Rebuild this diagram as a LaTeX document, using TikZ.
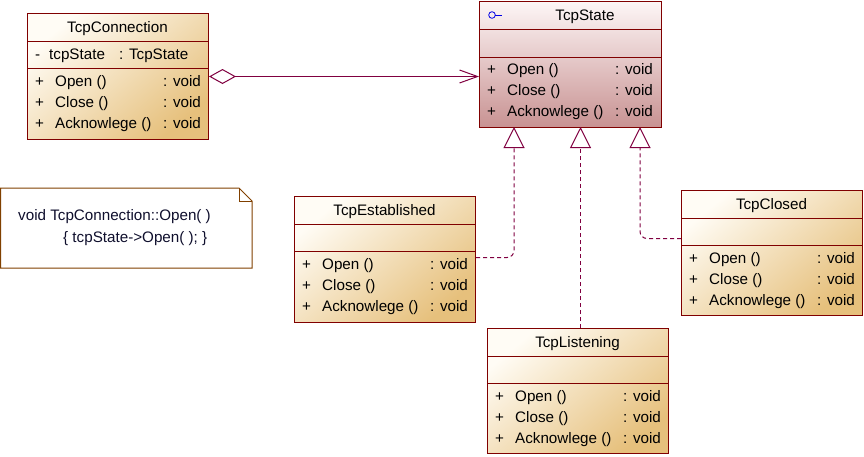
\documentclass[tikz,border=0pt]{standalone}
\usepackage{fontspec}
\setmainfont{Liberation Sans}
\usetikzlibrary{arrows.meta}
\definecolor{cborder}{RGB}{128,0,0}
\definecolor{cline}{RGB}{128,0,64}
\definecolor{ctan}{RGB}{230,192,124}
\definecolor{clight}{RGB}{255,252,245}
\definecolor{cpink}{RGB}{200,146,146}
\definecolor{cpinklight}{RGB}{253,246,246}
\definecolor{cnote}{RGB}{128,64,0}
\definecolor{cnotetext}{RGB}{15,15,45}
\definecolor{cicon}{RGB}{0,0,230}
\tikzset{
  classbox/.style={draw=cborder, line width=1pt, rectangle, inner sep=0pt,
    anchor=north west, minimum width=181pt, minimum height=126pt,
    top color=clight, bottom color=ctan, shading angle=40},
  statebox/.style={classbox, top color=cpinklight, bottom color=cpink},
  sepline/.style={draw=cborder, line width=1pt},
  txt/.style={inner sep=0pt, anchor=base west, font=\fontsize{15.2}{17}\selectfont},
  ttl/.style={inner sep=0pt, anchor=base, font=\fontsize{15.2}{17}\selectfont},
  conn/.style={draw=cline, line width=1pt},
  dep/.style={conn, dash pattern=on 4pt off 3pt, rounded corners=7pt,
    -{Triangle[open, length=21pt, width=21pt, line width=1pt]}},
  notetxt/.style={inner sep=0pt, anchor=base west, text=cnotetext, font=\fontsize{15.2}{17}\selectfont},
}
% #1 prefix, #2 box left x, #3 box top y
\newcommand{\classops}[3]{%
  \node[txt] (#1p1) at (#2+8,#3+73) {+};
  \node[txt] (#1p2) at (#2+8,#3+94) {+};
  \node[txt] (#1p3) at (#2+8,#3+115) {+};
  \node[txt] (#1n1) at (#2+28,#3+73) {Open ()};
  \node[txt] (#1n2) at (#2+28,#3+94) {Close ()};
  \node[txt] (#1n3) at (#2+28,#3+115) {Acknowlege ()};
  \node[txt] (#1v1) at (#2+136,#3+73) {: void};
  \node[txt] (#1v2) at (#2+136,#3+94) {: void};
  \node[txt] (#1v3) at (#2+136,#3+115) {: void};
  \draw[sepline] (#2,#3+28) -- (#2+181,#3+28);
  \draw[sepline] (#2,#3+55) -- (#2+181,#3+55);
}
\begin{document}
\begin{tikzpicture}[x=1pt, y=-1pt]
\useasboundingbox (0,0) rectangle (864,456);

% TcpConnection
\node[classbox] (tconn) at (27,13) {};
\node[ttl] (tconnT) at (117.5,32) {TcpConnection};
\node[txt] (tconnA0) at (35,59) {-};
\node[txt] (tconnA1) at (49,59) {tcpState};
\node[txt] (tconnA2) at (119,59) {: TcpState};
\classops{tconn}{27}{13}

% TcpState
\node[statebox, minimum width=182pt] (tstate) at (479,1) {};
\node[ttl] (tstateT) at (585,20) {TcpState};
\draw[draw=cicon, line width=0.8pt] (492,15) circle[radius=3.3pt];
\draw[draw=cicon, line width=0.8pt] (495.3,15) -- (502,15);
\node[txt] (tsp1) at (487,74) {+};
\node[txt] (tsp2) at (487,95) {+};
\node[txt] (tsp3) at (487,116) {+};
\node[txt] (tsn1) at (507,74) {Open ()};
\node[txt] (tsn2) at (507,95) {Close ()};
\node[txt] (tsn3) at (507,116) {Acknowlege ()};
\node[txt] (tsv1) at (615,74) {: void};
\node[txt] (tsv2) at (615,95) {: void};
\node[txt] (tsv3) at (615,116) {: void};
\draw[sepline] (479,29) -- (661,29);
\draw[sepline] (479,57) -- (661,57);

% TcpEstablished
\node[classbox] (test) at (294,196) {};
\node[ttl] (testT) at (384.5,215) {TcpEstablished};
\classops{test}{294}{196}

% TcpClosed
\node[classbox, minimum height=125pt] (tclosed) at (681,190) {};
\node[ttl] (tclosedT) at (771.5,209) {TcpClosed};
\classops{tclosed}{681}{190}

% TcpListening
\node[classbox, minimum height=125pt] (tlist) at (487,328) {};
\node[ttl] (tlistT) at (577.5,347) {TcpListening};
\classops{tlist}{487}{328}

% Note
\draw[draw=cnote, line width=1pt, fill=white]
  (0.5,188) -- (239,188) -- (252,201) -- (252,268) -- (0.5,268) -- cycle;
\draw[draw=cnote, line width=1pt] (239,188) -- (239,201) -- (252,201);
\node[notetxt] (note1) at (18,220) {void TcpConnection::Open( )};
\node[notetxt] (note2) at (63,242) {\{ tcpState->Open( ); \}};

% aggregation
\draw[conn, {Diamond[open, length=27pt, width=15pt, line width=1pt]}-{Straight Barb[length=18pt, width=13pt, line width=1pt]}]
  (tconn.east) -- (tconn.east -| tstate.west);

% inheritance
\coordinate (g1) at (514,127);
\coordinate (g2) at (580.5,127);
\coordinate (g3) at (640,127);
\draw[dep] ([yshift=2pt]test.east) -| (g1);
\draw[dep] (g2 |- tlist.north) -- (g2);
\draw[dep] ([yshift=14.5pt]tclosed.west) -| (g3);
\end{tikzpicture}
\end{document}
